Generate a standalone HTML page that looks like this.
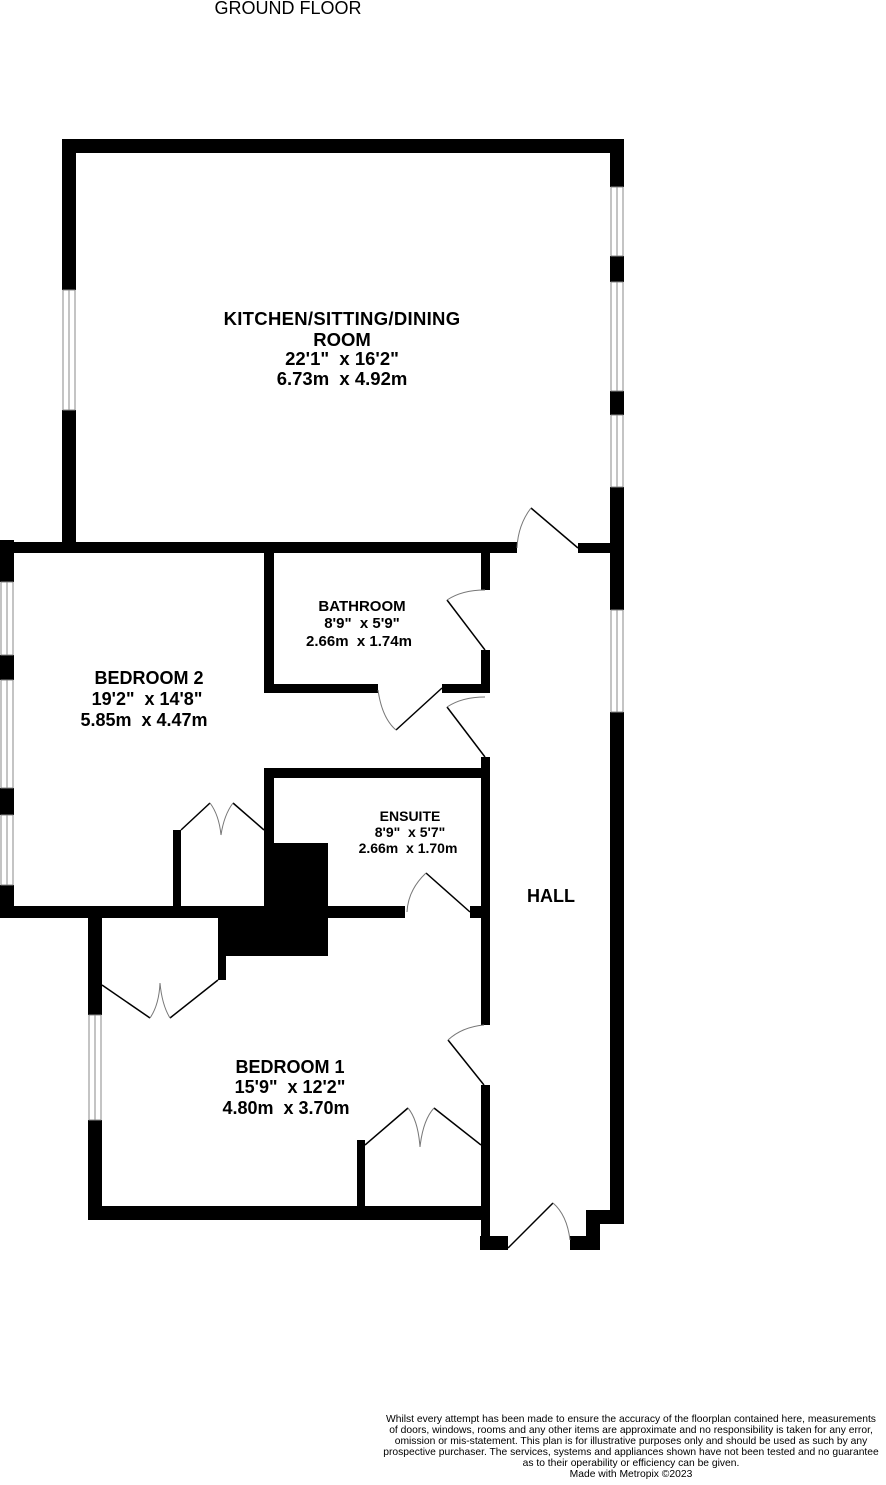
<!DOCTYPE html>
<html><head><meta charset="utf-8"><style>
html,body{margin:0;padding:0;background:#fff;}
svg{display:block;}
text{font-family:"Liberation Sans",sans-serif;fill:#000;white-space:pre;}
.b{font-weight:bold;}
</style></head><body>
<svg width="886" height="1485" viewBox="0 0 886 1485" xmlns="http://www.w3.org/2000/svg" xml:space="preserve">
<text x="288" y="14" font-size="18" text-anchor="middle">GROUND FLOOR</text>
<g fill="#000">
<rect x="62" y="139" width="562" height="14"/>
<rect x="62" y="139" width="14" height="151"/>
<rect x="62" y="410" width="14" height="143"/>
<rect x="610" y="139" width="14" height="48"/>
<rect x="610" y="256" width="14" height="26"/>
<rect x="610" y="391" width="14" height="24"/>
<rect x="610" y="487" width="14" height="123"/>
<rect x="610" y="712" width="14" height="512"/>
<rect x="0" y="542" width="517" height="11"/>
<rect x="578" y="543" width="34" height="10"/>
<rect x="0" y="540" width="14" height="42"/>
<rect x="0" y="655" width="14" height="25"/>
<rect x="0" y="788" width="14" height="27"/>
<rect x="0" y="885" width="14" height="33"/>
<rect x="0" y="906" width="405" height="12"/>
<rect x="470" y="906" width="20" height="12"/>
<rect x="264" y="548" width="10" height="145"/>
<rect x="264" y="684" width="114" height="9"/>
<rect x="442" y="684" width="48" height="9"/>
<rect x="481" y="548" width="9" height="42"/>
<rect x="481" y="650" width="9" height="43"/>
<rect x="481" y="757" width="9" height="268"/>
<rect x="481" y="1085" width="9" height="165"/>
<rect x="264" y="768" width="226" height="10"/>
<rect x="264" y="768" width="10" height="150"/>
<rect x="264" y="843" width="64" height="70"/>
<rect x="173" y="830" width="8" height="82"/>
<rect x="88" y="912" width="14" height="103"/>
<rect x="88" y="1120" width="14" height="100"/>
<rect x="88" y="1206" width="402" height="14"/>
<rect x="218" y="914" width="110" height="42"/>
<rect x="218" y="914" width="8" height="66"/>
<rect x="357" y="1140" width="8" height="70"/>
<rect x="480" y="1236" width="28" height="14"/>
<rect x="570" y="1236" width="30" height="14"/>
<rect x="586" y="1210" width="14" height="40"/>
<rect x="586" y="1210" width="38" height="14"/>
</g>
<g fill="#fff" stroke="#888" stroke-width="1">
<rect x="63" y="290" width="12" height="120"/><line x1="69" y1="290" x2="69" y2="410"/>
<rect x="611" y="187" width="12" height="69"/><line x1="617" y1="187" x2="617" y2="256"/>
<rect x="611" y="282" width="12" height="109"/><line x1="617" y1="282" x2="617" y2="391"/>
<rect x="611" y="415" width="12" height="72"/><line x1="617" y1="415" x2="617" y2="487"/>
<rect x="611" y="610" width="12" height="102"/><line x1="617" y1="610" x2="617" y2="712"/>
<rect x="1" y="582" width="12" height="73"/><line x1="7" y1="582" x2="7" y2="655"/>
<rect x="1" y="680" width="12" height="108"/><line x1="7" y1="680" x2="7" y2="788"/>
<rect x="1" y="815" width="12" height="70"/><line x1="7" y1="815" x2="7" y2="885"/>
<rect x="89" y="1015" width="12" height="105"/><line x1="95" y1="1015" x2="95" y2="1120"/>
</g>
<g fill="none" stroke="#000" stroke-width="1.5">
<line x1="578" y1="548" x2="531" y2="508"/>
<line x1="485" y1="650" x2="447" y2="600"/>
<line x1="442" y1="688" x2="396" y2="730"/>
<line x1="485" y1="757" x2="447" y2="707"/>
<line x1="470" y1="912" x2="426" y2="873"/>
<line x1="181" y1="830" x2="210" y2="803"/><line x1="233" y1="803" x2="264" y2="830"/>
<line x1="102" y1="985" x2="150" y2="1018"/><line x1="170" y1="1018" x2="218" y2="980"/>
<line x1="365" y1="1145" x2="408" y2="1108"/><line x1="434" y1="1108" x2="481" y2="1145"/>
<line x1="484" y1="1085" x2="448" y2="1040"/>
<line x1="508" y1="1248" x2="553" y2="1203"/>
</g>
<g fill="none" stroke="#777" stroke-width="1">
<path d="M531 508 Q518 525 517 548"/>
<path d="M447 600 Q462 590 485 590"/>
<path d="M378 690 Q382 718 396 730"/>
<path d="M447 707 Q462 697 485 697"/>
<path d="M426 873 Q408 890 407 912"/>
<path d="M210 803 Q219 815 221 835 Q224 815 233 803"/>
<path d="M150 1018 Q159 1005 160 983 Q162 1005 170 1018"/>
<path d="M408 1108 Q418 1120 420 1147 Q423 1120 434 1108"/>
<path d="M448 1040 Q462 1027 484 1025"/>
<path d="M553 1203 Q567 1215 570 1240"/>
</g>
<g text-anchor="middle">
<text class="b" x="342" y="325" font-size="18.5" letter-spacing="0.3">KITCHEN/SITTING/DINING</text>
<text class="b" x="342" y="346" font-size="18.5">ROOM</text>
<text class="b" x="342" y="365" font-size="18.5">22'1"  x 16'2"</text>
<text class="b" x="342" y="385" font-size="18.5">6.73m  x 4.92m</text>
<text class="b" x="362" y="611" font-size="15">BATHROOM</text>
<text class="b" x="362" y="628" font-size="15">8'9"  x 5'9"</text>
<text class="b" x="359" y="646" font-size="15">2.66m  x 1.74m</text>
<text class="b" x="149" y="684" font-size="18">BEDROOM 2</text>
<text class="b" x="147" y="705" font-size="18">19'2"  x 14'8"</text>
<text class="b" x="144" y="726" font-size="18">5.85m  x 4.47m</text>
<text class="b" x="410" y="821" font-size="14">ENSUITE</text>
<text class="b" x="410" y="837" font-size="14">8'9"  x 5'7"</text>
<text class="b" x="408" y="853" font-size="14">2.66m  x 1.70m</text>
<text class="b" x="551" y="902" font-size="18">HALL</text>
<text class="b" x="290" y="1073" font-size="18">BEDROOM 1</text>
<text class="b" x="290" y="1093" font-size="18">15'9"  x 12'2"</text>
<text class="b" x="286" y="1114" font-size="18">4.80m  x 3.70m</text>
<g font-size="10.3" fill="#222">
<text x="631" y="1422">Whilst every attempt has been made to ensure the accuracy of the floorplan contained here, measurements</text>
<text x="631" y="1433">of doors, windows, rooms and any other items are approximate and no responsibility is taken for any error,</text>
<text x="631" y="1444">omission or mis-statement. This plan is for illustrative purposes only and should be used as such by any</text>
<text x="631" y="1455">prospective purchaser. The services, systems and appliances shown have not been tested and no guarantee</text>
<text x="631" y="1466">as to their operability or efficiency can be given.</text>
<text x="631" y="1477">Made with Metropix ©2023</text>
</g>
</g>
</svg>
</body></html>
